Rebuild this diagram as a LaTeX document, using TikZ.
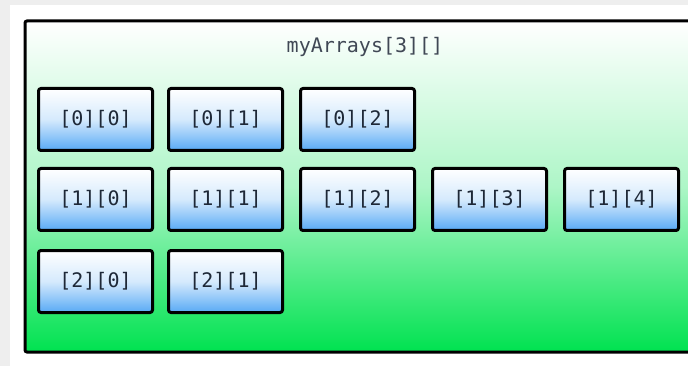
\documentclass[tikz,border=0pt]{standalone}
\usepackage{fontspec}
\setmonofont{DejaVu Sans Mono}
\definecolor{frameG}{RGB}{0,226,80}
\definecolor{boxB}{RGB}{88,170,245}
\definecolor{txt}{RGB}{30,40,55}
\definecolor{edgegray}{RGB}{238,238,238}
\tikzset{
  cell/.style={draw=black, line width=3pt, rounded corners=2.5pt,
    minimum width=114pt, minimum height=62pt, inner sep=0pt,
    top color=white, bottom color=boxB, middle color=boxB!25!white,
    font=\ttfamily\fontsize{20}{23}\selectfont, text=txt, anchor=north west},
  outer/.style={draw=black, line width=3pt, rounded corners=2pt,
    top color=white, bottom color=frameG, middle color=frameG!32!white},
  ttl/.style={font=\ttfamily\fontsize{20}{23}\selectfont, text=txt!85!white}
}
\begin{document}
\begin{tikzpicture}[x=1pt,y=-1pt]
\clip (0,0) rectangle (688,366);
\useasboundingbox (0,0) rectangle (688,366);
\fill[edgegray] (0,0) rectangle (688,366);
\fill[white] (10,5) rectangle (688,366);
\shade[outer] (25,21) rectangle (700,352);
\node[ttl] (title) at (365,47) {myArrays[3][]};
% row 0
\node[cell] (c00) at (37,87) {[0][0]};
\node[cell] (c01) at (167,87) {[0][1]};
\node[cell] (c02) at (299,87) {[0][2]};
% row 1
\node[cell] (c10) at (37,167) {[1][0]};
\node[cell] (c11) at (167,167) {[1][1]};
\node[cell] (c12) at (299,167) {[1][2]};
\node[cell] (c13) at (431,167) {[1][3]};
\node[cell] (c14) at (563,167) {[1][4]};
% row 2
\node[cell] (c20) at (37,249) {[2][0]};
\node[cell] (c21) at (167,249) {[2][1]};
\end{tikzpicture}
\end{document}
